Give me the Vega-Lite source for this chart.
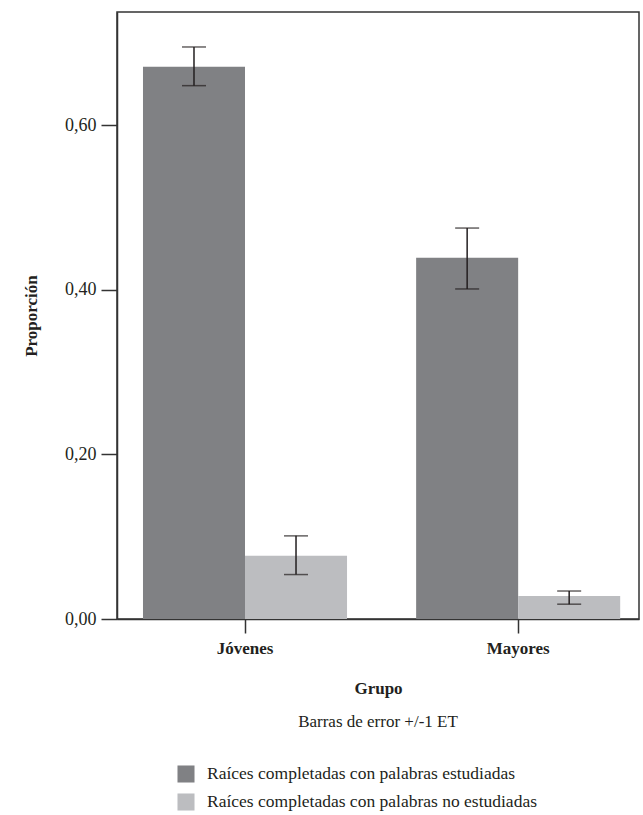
{
  "$schema": "https://vega.github.io/schema/vega-lite/v6.json",
  "width": 522,
  "height": 607,
  "autosize": {"type": "none"},
  "padding": {"left": 117, "top": 12, "right": 4, "bottom": 196},
  "background": "white",
  "title": {
    "text": "Barras de error +/-1 ET",
    "orient": "bottom",
    "anchor": "middle",
    "offset": 10,
    "dy": -107,
    "font": "Times New Roman, Liberation Serif, serif",
    "fontSize": 17,
    "fontWeight": "normal",
    "color": "#231f20"
  },
  "data": {
    "values": [
      {"grupo": "Jóvenes", "serie": "Raíces completadas con palabras estudiadas", "media": 0.671, "inf": 0.648, "sup": 0.695},
      {"grupo": "Jóvenes", "serie": "Raíces completadas con palabras no estudiadas", "media": 0.077, "inf": 0.054, "sup": 0.101},
      {"grupo": "Mayores", "serie": "Raíces completadas con palabras estudiadas", "media": 0.439, "inf": 0.401, "sup": 0.475},
      {"grupo": "Mayores", "serie": "Raíces completadas con palabras no estudiadas", "media": 0.028, "inf": 0.018, "sup": 0.034}
    ]
  },
  "encoding": {
    "x": {
      "field": "grupo",
      "type": "nominal",
      "scale": {"paddingInner": 0.253, "paddingOuter": 0.082, "align": 0.58},
      "axis": {
        "title": "Grupo",
        "labelAngle": 0,
        "labelFont": "Times New Roman, Liberation Serif, serif",
        "labelFontSize": 17,
        "labelFontWeight": "bold",
        "labelColor": "#231f20",
        "labelPadding": 7,
        "tickSize": 14,
        "tickColor": "#333333",
        "tickWidth": 1.5,
        "domainColor": "#333333",
        "domainWidth": 1.5,
        "titleFont": "Times New Roman, Liberation Serif, serif",
        "titleFontSize": 17,
        "titleFontWeight": "bold",
        "titleColor": "#231f20",
        "titlePadding": 24
      }
    },
    "xOffset": {
      "field": "serie",
      "type": "nominal",
      "scale": {"domain": ["Raíces completadas con palabras estudiadas", "Raíces completadas con palabras no estudiadas"], "paddingInner": 0, "paddingOuter": 0}
    }
  },
  "layer": [
    {
      "mark": {"type": "bar"},
      "encoding": {
        "y": {
          "field": "media",
          "type": "quantitative",
          "scale": {"domain": [0, 0.7375], "nice": false, "zero": true},
          "axis": {
            "title": "Proporción",
            "values": [0, 0.2, 0.4, 0.6],
            "labelExpr": "replace(format(datum.value, '.2f'), '.', ',')",
            "grid": false,
            "labelFont": "Times New Roman, Liberation Serif, serif",
            "labelFontSize": 18,
            "labelColor": "#231f20",
            "labelPadding": 5,
            "tickSize": 16,
            "tickColor": "#333333",
            "tickWidth": 1.5,
            "domainColor": "#333333",
            "domainWidth": 1.5,
            "titleFont": "Times New Roman, Liberation Serif, serif",
            "titleFontSize": 17,
            "titleFontWeight": "bold",
            "titleColor": "#231f20",
            "titlePadding": 24
          }
        },
        "color": {
          "field": "serie",
          "type": "nominal",
          "scale": {
            "domain": ["Raíces completadas con palabras estudiadas", "Raíces completadas con palabras no estudiadas"],
            "range": ["#808184", "#bcbdc0"]
          },
          "legend": {
            "title": null,
            "orient": "none",
            "legendX": 60,
            "legendY": 753,
            "symbolType": "square",
            "symbolSize": 290,
            "symbolStrokeWidth": 0,
            "symbolOpacity": 1,
            "labelFont": "Times New Roman, Liberation Serif, serif",
            "labelFontSize": 17.5,
            "labelColor": "#231f20",
            "labelOffset": 12,
            "rowPadding": 10,
            "labelLimit": 500
          }
        }
      }
    },
    {
      "mark": {"type": "rule", "color": "#231f20", "strokeWidth": 1.5},
      "encoding": {
        "y": {"field": "inf", "type": "quantitative"},
        "y2": {"field": "sup"}
      }
    },
    {
      "mark": {"type": "tick", "color": "#231f20", "thickness": 1.5, "size": 24},
      "encoding": {"y": {"field": "inf", "type": "quantitative"}}
    },
    {
      "mark": {"type": "tick", "color": "#231f20", "thickness": 1.5, "size": 24},
      "encoding": {"y": {"field": "sup", "type": "quantitative"}}
    }
  ],
  "config": {
    "view": {"stroke": "#333333", "strokeWidth": 1.5}
  }
}
